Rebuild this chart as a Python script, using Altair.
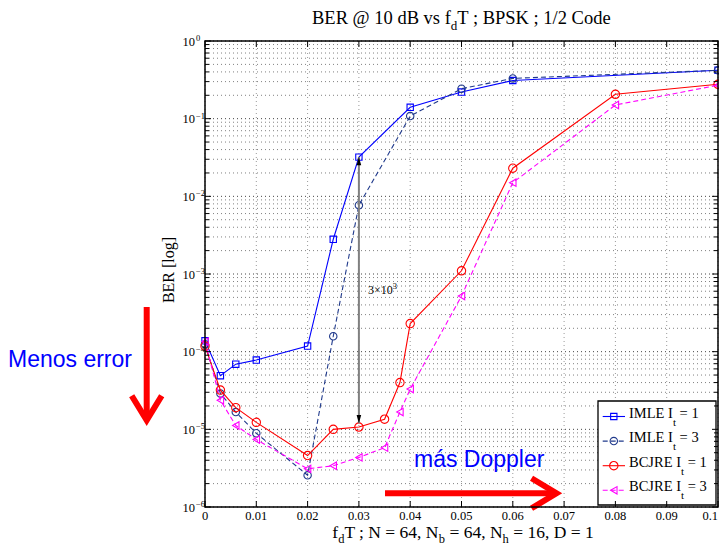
import altair as alt
import pandas as pd

# ---------------- data ----------------
x_imle = [0, 0.003, 0.006, 0.01, 0.02, 0.025, 0.03, 0.04, 0.05, 0.06, 0.1]
ber_imle_it1 = [1.38e-4, 4.9e-5, 6.9e-5, 7.8e-5, 1.18e-4, 2.8e-3, 3.2e-2, 0.14, 0.22, 0.31, 0.42]
ber_imle_it3 = [1.25e-4, 2.9e-5, 1.67e-5, 8.9e-6, 2.56e-6, 1.58e-4, 7.7e-3, 0.108, 0.243, 0.33, 0.42]

x_bcjre = [0, 0.003, 0.006, 0.01, 0.02, 0.025, 0.03, 0.035, 0.038, 0.04, 0.05, 0.06, 0.08, 0.1]
ber_bcjre_it1 = [1.18e-4, 3.2e-5, 1.9e-5, 1.23e-5, 4.6e-6, 1.0e-5, 1.07e-5, 1.35e-5, 4.0e-5, 2.3e-4, 1.1e-3, 2.3e-2, 0.206, 0.277]
ber_bcjre_it3 = [1.35e-4, 2.37e-5, 1.12e-5, 7.4e-6, 3.1e-6, 3.4e-6, 4.35e-6, 5.8e-6, 1.67e-5, 3.3e-5, 5.2e-4, 1.5e-2, 0.15, 0.27]

x_ticks = [0, 0.01, 0.02, 0.03, 0.04, 0.05, 0.06, 0.07, 0.08, 0.09, 0.1]
x_tick_labels = ["0", "0.01", "0.02", "0.03", "0.04", "0.05", "0.06", "0.07", "0.08", "0.09", "0.1"]
y_exponents = [0, -1, -2, -3, -4, -5, -6]
y_minor_mult = [2, 3, 4, 5, 6, 7, 8, 9]

arrow_x = 0.03
arrow_top = 3.2e-2
arrow_bottom = 1.2e-5

# ---------------- layout ----------------
W, H = 513, 466
SERIF = "Liberation Serif"
SANS = "Liberation Sans"
NAVY = "#203a8c"

xs = alt.Scale(domain=[0, 0.1], nice=False, zero=False)
ys = alt.Scale(type="log", domain=[1e-6, 1], nice=False)


def X(f="x"):
    return alt.X(f"{f}:Q", scale=xs, axis=None)


def Y(f="y"):
    return alt.Y(f"{f}:Q", scale=ys, axis=None)


ONE = pd.DataFrame({"a": [0]})

TIMES = {" ": 250, "@": 921, ";": 278, "/": 278, "=": 564, ",": 250, "[": 333, "]": 333,
         "×": 564, "−": 564, ".": 250,
         "B": 667, "C": 667, "D": 722, "E": 611, "I": 333, "J": 389, "K": 722, "L": 611,
         "M": 889, "N": 722, "P": 556, "R": 667, "S": 556, "T": 611,
         "a": 444, "b": 500, "d": 500, "e": 444, "f": 333, "g": 500, "h": 500, "l": 278,
         "o": 500, "s": 389, "t": 278, "v": 500}


def tw(s, size):
    return sum(TIMES.get(c, 500) for c in s) * size / 1000.0


def txt(s, x, y, size, font=SERIF, color="black", align="left", baseline="alphabetic", angle=None):
    kw = dict(text=s, font=font, fontSize=size, color=color, align=align, baseline=baseline)
    if angle is not None:
        kw["angle"] = angle
    return alt.Chart(ONE).mark_text(**kw).encode(x=alt.value(x), y=alt.value(y))


def rich_width(pieces, size, sub):
    return sum(tw(s, sub if k != "n" else size) for s, k in pieces)


def rich(pieces, x0, y0, size, sub, subdy=5, supdy=-5, color="black"):
    layers = []
    x = x0
    for s, k in pieces:
        fs = size if k == "n" else sub
        lead = len(s) - len(s.lstrip(" "))
        body = s.strip(" ")
        yy = y0 + (subdy if k == "sub" else supdy if k == "sup" else 0)
        layers.append(txt(body, x + tw(" " * lead, fs), yy, fs, color=color))
        x += tw(s, fs)
    return layers


layers = []

# ---------------- grid ----------------
minor_vals = [m * 10.0 ** e for e in y_exponents[1:] for m in y_minor_mult]
df_minor = pd.DataFrame({"y": minor_vals})
df_dec = pd.DataFrame({"y": [10.0 ** e for e in y_exponents]})
df_xt = pd.DataFrame({"x": x_ticks, "lab": x_tick_labels})

layers.append(alt.Chart(df_minor).mark_rule(color="#808080", strokeWidth=1, strokeDash=[1, 3]).encode(
    y=Y(), x=alt.value(0), x2=alt.value(W)))
layers.append(alt.Chart(df_dec).mark_rule(color="#444444", strokeWidth=1, strokeDash=[1, 3]).encode(
    y=Y(), x=alt.value(0), x2=alt.value(W)))
layers.append(alt.Chart(df_xt).mark_rule(color="#9a9a9a", strokeWidth=1, strokeDash=[1, 3]).encode(
    x=X(), y=alt.value(0), y2=alt.value(H)))


# ---------------- series ----------------
def series(xv, yv, color, shape, size, dash=None):
    df = pd.DataFrame({"x": xv, "y": yv})
    lk = dict(color=color, strokeWidth=1.1)
    if dash:
        lk["strokeDash"] = dash
    ln = alt.Chart(df).mark_line(**lk).encode(x=X(), y=Y())
    pt = alt.Chart(df).mark_point(shape=shape, size=size, color=color, filled=False,
                                  strokeWidth=1.1, opacity=1).encode(x=X(), y=Y())
    return [ln, pt]


STY = [
    ("IMLE I", "1", "#0000ff", "square", 40, None),
    ("IMLE I", "3", NAVY, "circle", 55, [5, 3]),
    ("BCJRE I", "1", "#ff0000", "circle", 70, None),
    ("BCJRE I", "3", "#ff00ff", "triangle-left", 55, [5, 3]),
]
layers += series(x_imle, ber_imle_it1, *STY[0][2:])
layers += series(x_imle, ber_imle_it3, *STY[1][2:])
layers += series(x_bcjre, ber_bcjre_it1, *STY[2][2:])
layers += series(x_bcjre, ber_bcjre_it3, *STY[3][2:])

# ---------------- 3x10^3 double arrow ----------------
df_arr = pd.DataFrame({"x": [arrow_x], "y": [arrow_top], "y2": [arrow_bottom]})
layers.append(alt.Chart(df_arr).mark_rule(color="#808080", strokeWidth=2).encode(
    x=X(), y=Y(), y2="y2:Q"))
layers.append(alt.Chart(pd.DataFrame({"x": [arrow_x], "y": [arrow_top]})).mark_point(
    shape="M0,-1L0.55,1L-0.55,1Z", size=70, filled=True, color="black", opacity=1, yOffset=4
).encode(x=X(), y=Y()))
layers.append(alt.Chart(pd.DataFrame({"x": [arrow_x], "y": [arrow_bottom]})).mark_point(
    shape="M0,1L0.55,-1L-0.55,-1Z", size=70, filled=True, color="black", opacity=1, yOffset=-4
).encode(x=X(), y=Y()))
layers += rich([("3×10", "n"), ("3", "sup")], 163, 253, 12, 8.5, supdy=-5)

# ---------------- annotations outside / inside ----------------
RED = "#ff0000"
BLUE = "#0000ff"
layers.append(txt("Menos error", -197, 326, 23, font=SANS, color=BLUE))
layers.append(alt.Chart(ONE).mark_rule(color=RED, strokeWidth=6).encode(
    x=alt.value(-58.3), y=alt.value(266), y2=alt.value(378)))
layers.append(alt.Chart(ONE).mark_point(shape="M-1,-0.82L0,0.82L1,-0.82", size=900, filled=False,
                                        color=RED, strokeWidth=6, opacity=1, strokeJoin="miter").encode(
    x=alt.value(-58.3), y=alt.value(367)))
layers.append(txt("más Doppler", 209, 426, 23, font=SANS, color=BLUE))
layers.append(alt.Chart(ONE).mark_rule(color=RED, strokeWidth=6).encode(
    x=alt.value(180), x2=alt.value(349), y=alt.value(452.3)))
layers.append(alt.Chart(ONE).mark_point(shape="M-0.83,-1L0.83,0L-0.83,1", size=900, filled=False,
                                        color=RED, strokeWidth=6, opacity=1, strokeJoin="miter").encode(
    x=alt.value(339), y=alt.value(452.3)))

# ---------------- legend ----------------
layers.append(alt.Chart(ONE).mark_rect(fill="white", stroke="black", strokeWidth=1.3).encode(
    x=alt.value(393), x2=alt.value(511), y=alt.value(360), y2=alt.value(464)))
leg_y = [375.5, 400.1, 424.7, 449.3]
for (name, it, color, shape, size, dash), ly in zip(STY, leg_y):
    rk = dict(color=color, strokeWidth=1.1)
    if dash:
        rk["strokeDash"] = dash
    layers.append(alt.Chart(ONE).mark_rule(**rk).encode(
        x=alt.value(397.7), x2=alt.value(420), y=alt.value(ly)))
    layers.append(alt.Chart(ONE).mark_point(shape=shape, size=size, color=color, filled=False,
                                            strokeWidth=1.1, opacity=1).encode(
        x=alt.value(408.8), y=alt.value(ly)))
    layers += rich([(name, "n"), ("t", "sub"), (" = " + it, "n")], 424, ly + 1, 14.5, 11, subdy=8)

# ---------------- frame + ticks ----------------
layers.append(alt.Chart(ONE).mark_rect(fillOpacity=0, stroke="black", strokeWidth=1.5).encode(
    x=alt.value(0), x2=alt.value(W), y=alt.value(0), y2=alt.value(H)))
layers.append(alt.Chart(df_xt).mark_rule(color="black", strokeWidth=1).encode(
    x=X(), y=alt.value(H), y2=alt.value(H - 6)))
layers.append(alt.Chart(df_xt).mark_rule(color="black", strokeWidth=1).encode(
    x=X(), y=alt.value(0), y2=alt.value(6)))
layers.append(alt.Chart(df_dec).mark_rule(color="black", strokeWidth=1).encode(
    y=Y(), x=alt.value(0), x2=alt.value(6)))
layers.append(alt.Chart(df_dec).mark_rule(color="black", strokeWidth=1).encode(
    y=Y(), x=alt.value(W - 6), x2=alt.value(W)))
layers.append(alt.Chart(df_minor).mark_rule(color="black", strokeWidth=1).encode(
    y=Y(), x=alt.value(0), x2=alt.value(4)))
layers.append(alt.Chart(df_minor).mark_rule(color="black", strokeWidth=1).encode(
    y=Y(), x=alt.value(W - 4), x2=alt.value(W)))

# ---------------- tick labels ----------------
layers.append(alt.Chart(df_xt.iloc[:-1]).mark_text(font=SERIF, fontSize=12.5, align="center",
                                                   baseline="middle").encode(
    x=X(), y=alt.value(H + 9), text="lab:N"))
layers.append(alt.Chart(df_xt.iloc[-1:]).mark_text(font=SERIF, fontSize=12.5, align="right",
                                                   baseline="middle").encode(
    x=X(), y=alt.value(H + 9), text="lab:N"))
df_ylab = pd.DataFrame({"y": [10.0 ** e for e in y_exponents],
                        "sup": [("−" + str(-e)) if e < 0 else "0" for e in y_exponents]})
layers.append(alt.Chart(df_ylab).mark_text(font=SERIF, fontSize=12.5, align="right", baseline="alphabetic",
                                           dy=4.5).encode(y=Y(), x=alt.value(-10), text=alt.value("10")))
layers.append(alt.Chart(df_ylab).mark_text(font=SERIF, fontSize=8.5, align="left", baseline="alphabetic",
                                           dy=0).encode(y=Y(), x=alt.value(-9), text="sup:N"))

# ---------------- titles ----------------
title_p = [("BER @ 10 dB vs f", "n"), ("d", "sub"), ("T ; BPSK ; 1/2 Code", "n")]
tw_title = rich_width(title_p, 18.5, 13)
layers += rich(title_p, W / 2 - tw_title / 2, -17, 18.5, 13, subdy=6)

xl_p = [("f", "n"), ("d", "sub"), ("T ; N = 64, N", "n"), ("b", "sub"), (" = 64, N", "n"), ("h", "sub"),
        (" = 16, D = 1", "n")]
tw_xl = rich_width(xl_p, 17.5, 12.5)
layers += rich(xl_p, 258 - tw_xl / 2, H + 31, 17.5, 12.5, subdy=5)

layers.append(txt("BER [log]", -36, 229, 16, align="center", baseline="middle", angle=270))

chart = alt.layer(*layers).properties(
    width=W, height=H,
    padding={"left": 197, "top": 33, "right": 1, "bottom": 38},
    autosize=alt.AutoSizeParams(type="none"),
).configure_view(stroke=None)

chart.save("out.html", embed_options={"renderer": "svg", "actions": False})
